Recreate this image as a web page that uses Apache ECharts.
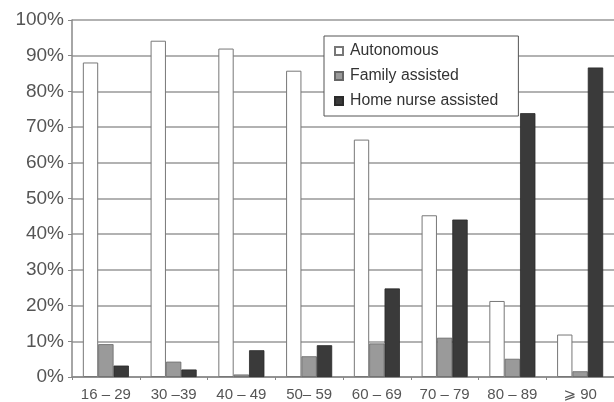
<!DOCTYPE html>
<html><head><meta charset="utf-8">
<script src="https://cdn.jsdelivr.net/npm/echarts@6/dist/echarts.min.js"></script>
<style>html,body{margin:0;padding:0;background:#fff}#c{width:614px;height:402px}</style>
</head><body><div id="c"></div>
<script>
var categories = ["16 – 29", "30 –39", "40 – 49", "50– 59", "60 – 69", "70 – 79", "80 – 89", "⩾ 90"];
var autonomous = [88.1, 94.2, 92.0, 85.8, 66.5, 45.3, 21.3, 11.9];
var familyAssisted = [9.2, 4.3, 0.7, 5.8, 9.4, 11.0, 5.1, 1.6];
var homeNurse = [3.2, 2.1, 7.5, 8.9, 24.8, 44.1, 73.9, 86.7];
var yTicks = [0, 10, 20, 30, 40, 50, 60, 70, 80, 90, 100];

var chart = echarts.init(document.getElementById('c'));
chart.setOption({
  animation: false,
  backgroundColor: '#fff',
  textStyle: {fontFamily: 'Liberation Sans, Arial, sans-serif'},
  grid: {left: 72, right: -10, top: 20, bottom: 24, containLabel: false},
  legend: {
    orient: 'vertical', left: 324, top: 36,
    data: ['Autonomous', 'Family assisted', 'Home nurse assisted'],
    backgroundColor: '#fff', borderColor: '#555', borderWidth: 1,
    padding: [7, 20, 7, 10], itemGap: 9, itemWidth: 8, itemHeight: 8,
    icon: 'rect',
    textStyle: {fontSize: 15.8, color: '#333', padding: [0, 0, 0, 2], fontFamily: 'Liberation Sans, Arial, sans-serif'}
  },
  xAxis: {
    type: 'category', data: categories,
    axisLine: {lineStyle: {color: '#888', width: 1.5}},
    axisTick: {show: true, length: 3, lineStyle: {color: '#888'}},
    axisLabel: {fontSize: 15, color: '#555', margin: 10, interval: 0, fontFamily: 'Liberation Sans, DejaVu Sans, sans-serif'}
  },
  yAxis: {
    type: 'value', min: 0, max: 100, interval: 10,
    axisLine: {show: true, lineStyle: {color: '#888', width: 1.5}},
    axisTick: {show: true, length: 4, lineStyle: {color: '#888'}},
    axisLabel: {fontSize: 19, color: '#555', margin: 8,
      formatter: function (v) { return yTicks.indexOf(v) >= 0 ? v + '%' : ''; }},
    splitLine: {lineStyle: {color: '#999', width: 1.5}}
  },
  series: [
    {name: 'Autonomous', type: 'bar', data: autonomous, barGap: '0%', barCategoryGap: '32%',
     itemStyle: {color: '#fff', borderColor: '#777', borderWidth: 1}},
    {name: 'Family assisted', type: 'bar', data: familyAssisted,
     itemStyle: {color: '#9a9a9a', borderColor: '#666', borderWidth: 0.8}},
    {name: 'Home nurse assisted', type: 'bar', data: homeNurse,
     itemStyle: {color: '#3a3a3a', borderColor: '#2a2a2a', borderWidth: 0.8}}
  ]
});
</script></body></html>
